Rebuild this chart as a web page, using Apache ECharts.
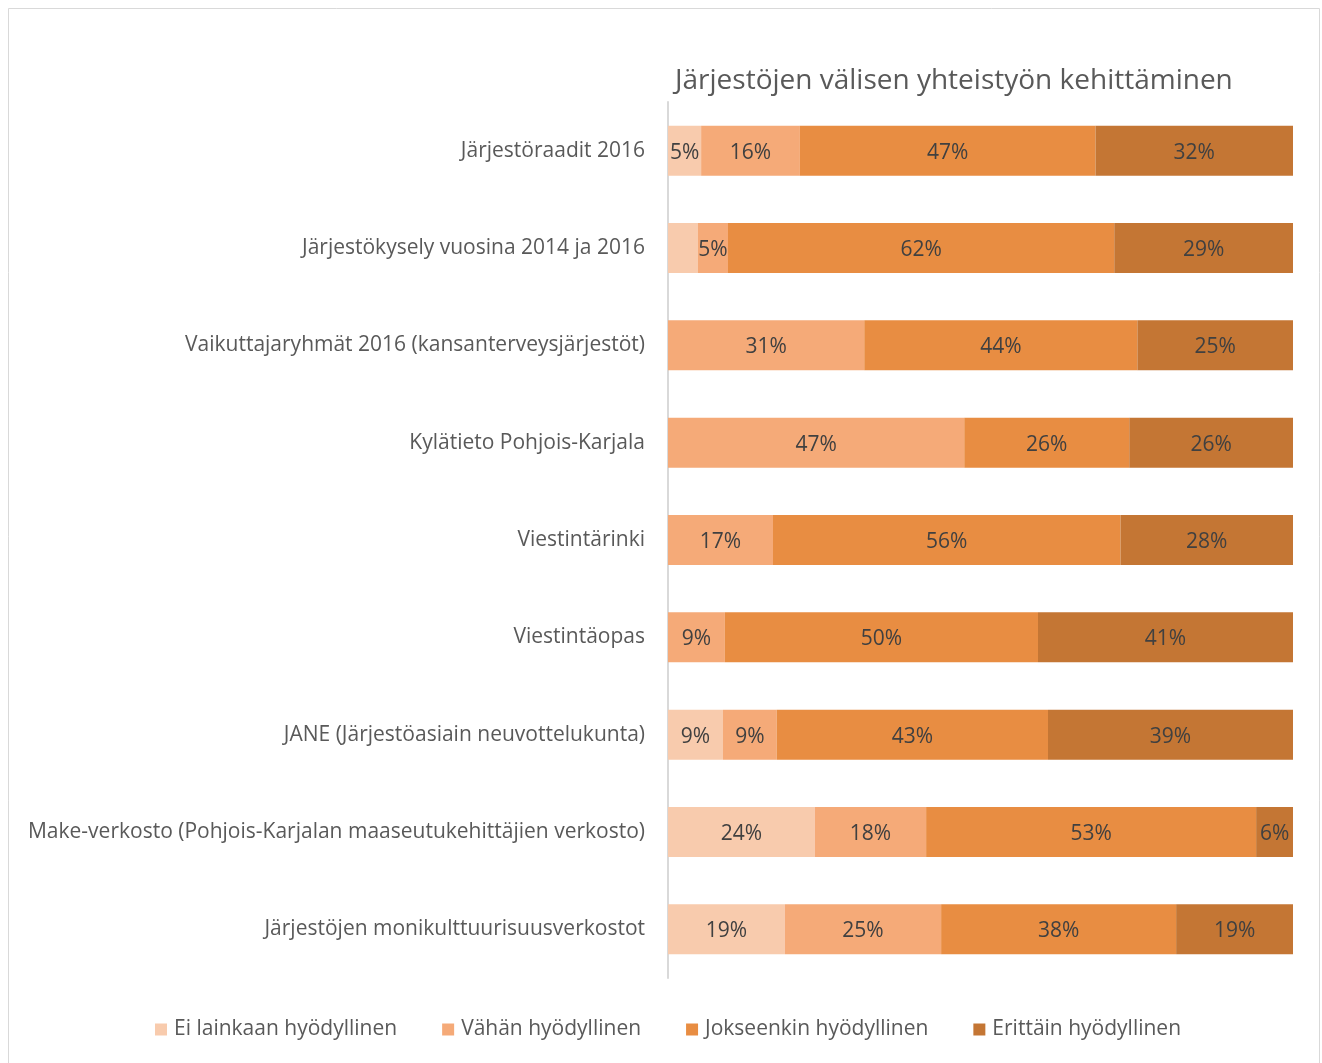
<!DOCTYPE html>
<html lang="fi" style="height: 100%">
<head>
  <meta charset="utf-8">
</head>
<body style="height: 100%; margin: 0">
  <div id="container" style="width: 1322px; height: 1063px"></div>

  <script type="text/javascript" src="https://cdn.jsdelivr.net/npm/echarts@6/dist/echarts.min.js"></script>
  <script type="text/javascript">
    var dom = document.getElementById('container');
    var myChart = echarts.init(dom, null, { renderer: 'canvas' });

    // rivit ylhäältä alas
    var categories = [
      'Järjestöraadit 2016',
      'Järjestökysely vuosina 2014 ja 2016',
      'Vaikuttajaryhmät 2016 (kansanterveysjärjestöt)',
      'Kylätieto Pohjois-Karjala',
      'Viestintärinki',
      'Viestintäopas',
      'JANE (Järjestöasiain neuvottelukunta)',
      'Make-verkosto (Pohjois-Karjalan maaseutukehittäjien verkosto)',
      'Järjestöjen monikulttuurisuusverkostot'
    ];
    var seriesNames = ['Ei lainkaan hyödyllinen', 'Vähän hyödyllinen', 'Jokseenkin hyödyllinen', 'Erittäin hyödyllinen'];
    var colors = ['#F8CBAD', '#F5AA78', '#E88D42', '#C47634'];

    // osuudet prosentteina
    var eiLainkaan  = [5.3, 4.8, 0, 0, 0, 0, 8.8, 23.5, 18.7];
    var vahan       = [15.8, 4.8, 31.4, 47.4, 16.8, 9.1, 8.6, 17.8, 25.0];
    var jokseenkin  = [47.3, 61.8, 43.7, 26.4, 55.6, 50.1, 43.4, 52.8, 37.6];
    var erittain    = [31.6, 28.6, 24.9, 26.2, 27.6, 40.8, 39.2, 5.9, 18.7];

    // label not shown in the original: [series, row]
    var hiddenLabels = [[0, 1]];

    var allValues = [eiLainkaan, vahan, jokseenkin, erittain];
    var FONT = 'Open Sans';

    var series = allValues.map(function (vals, si) {
      return {
        name: seriesNames[si],
        type: 'bar',
        stack: 'total',
        barWidth: 50,
        itemStyle: { color: colors[si] },
        label: {
          show: true,
          position: 'inside',
          offset: [0, 2],
          color: '#404040',
          fontSize: 21,
          fontFamily: FONT,
          formatter: function (p) {
            return p.value > 0 ? Math.round(p.value) + '%' : '';
          }
        },
        data: vals.map(function (v, ri) {
          var hide = hiddenLabels.some(function (h) { return h[0] === si && h[1] === ri; });
          return hide ? { value: v, label: { show: false } } : v;
        })
      };
    });

    var option = {
      animation: false,
      backgroundColor: '#ffffff',
      textStyle: { fontFamily: FONT },
      title: {
        text: 'Järjestöjen välisen yhteistyön kehittäminen',
        left: 670,
        top: 62,
        textStyle: { fontSize: 28, fontWeight: 'normal', color: '#595959', fontFamily: FONT }
      },
      graphic: [{
        type: 'rect',
        shape: { x: 8.5, y: 8.5, width: 1311, height: 1070 },
        style: { fill: 'none', stroke: '#d9d9d9', lineWidth: 1 },
        silent: true
      }],
      legend: {
        left: 150,
        top: 1014,
        icon: 'rect',
        itemWidth: 12,
        itemHeight: 12,
        itemGap: 45,
        textStyle: { fontSize: 21, color: '#595959', fontFamily: FONT, padding: [0, 0, 0, 2] },
        data: seriesNames
      },
      grid: {
        left: 668,
        right: 29,
        top: 102,
        height: 876,
        containLabel: false
      },
      xAxis: {
        type: 'value',
        min: 0,
        max: 100,
        show: false
      },
      yAxis: {
        type: 'category',
        inverse: true,
        data: categories,
        axisLine: { lineStyle: { color: '#d9d9d9', width: 2 } },
        axisTick: { show: false },
        axisLabel: { fontSize: 21, color: '#595959', margin: 23, fontFamily: FONT }
      },
      series: series
    };

    myChart.setOption(option);
    window.addEventListener('resize', myChart.resize);
  </script>
</body>
</html>
